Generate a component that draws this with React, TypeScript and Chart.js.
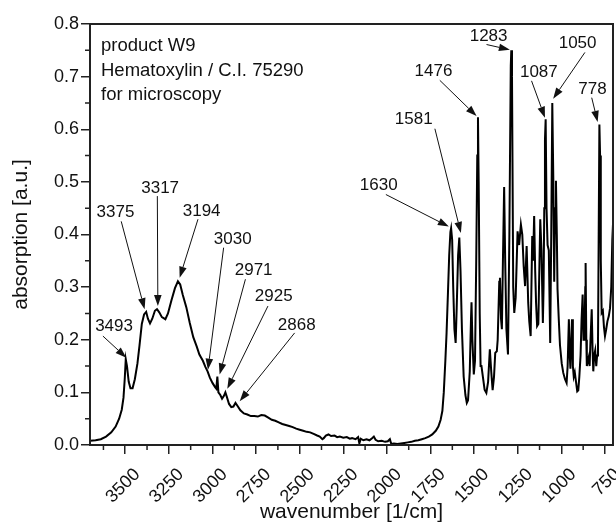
import React, { useEffect, useRef } from 'react';
import { Chart, registerables } from 'chart.js';

Chart.register(...registerables);

// ---------- data ----------
const ohRegionWn = [
  3700, 3670, 3640, 3610, 3580, 3555, 3535, 3520, 3510, 3503, 3497, 3490, 3480, 3470, 3458, 3445,
  3430, 3418, 3405, 3392, 3380, 3370, 3358, 3345, 3330, 3318, 3305, 3290, 3270, 3255, 3235, 3215,
  3198, 3185, 3170, 3150, 3130, 3110, 3090, 3075, 3055, 3040, 3028, 3015, 3000, 2985, 2978, 2972,
  2966, 2955, 2945, 2935, 2926, 2918, 2905, 2892, 2880, 2868, 2858, 2840, 2820, 2800, 2780, 2760,
  2740, 2720, 2700, 2680, 2660, 2640, 2620, 2600, 2580, 2560, 2540, 2520, 2500,
];
const ohRegionAbs = [
  0.008, 0.009, 0.011, 0.016, 0.024, 0.035, 0.05, 0.067, 0.09, 0.125, 0.163, 0.15, 0.12, 0.108, 0.108, 0.125,
  0.155, 0.19, 0.23, 0.248, 0.253, 0.24, 0.231, 0.24, 0.255, 0.258, 0.252, 0.243, 0.239, 0.25, 0.275, 0.298,
  0.311, 0.305, 0.285, 0.262, 0.232, 0.205, 0.187, 0.172, 0.16, 0.148, 0.14, 0.128, 0.118, 0.11, 0.107, 0.13,
  0.1, 0.095, 0.088, 0.093, 0.1, 0.092, 0.078, 0.072, 0.073, 0.08, 0.075, 0.066, 0.06, 0.058, 0.055, 0.055,
  0.054, 0.057, 0.056, 0.052, 0.048, 0.046, 0.043, 0.04, 0.038, 0.036, 0.034, 0.031, 0.029,
];

const baselineWn = [
  2480, 2460, 2440, 2420, 2400, 2385, 2370, 2362, 2350, 2335, 2320, 2300, 2285, 2270, 2250, 2230,
  2213, 2200, 2180, 2165, 2158, 2150, 2135, 2117, 2100, 2085, 2075, 2065, 2050, 2030, 2010, 1995,
  1983, 1975, 1960, 1940, 1920, 1900, 1880, 1860, 1840, 1820, 1800, 1780, 1760, 1740, 1720, 1705,
  1692, 1682, 1674, 1665, 1658, 1650, 1643, 1636, 1632,
];
const baselineAbs = [
  0.027, 0.025, 0.024, 0.021, 0.018, 0.016, 0.011, 0.013, 0.018, 0.02, 0.017, 0.018, 0.015, 0.016, 0.014, 0.015,
  0.012, 0.013, 0.011, 0.015, 0.003, 0.012, 0.009, 0.011, 0.009, 0.013, 0.016, 0.01, 0.007, 0.008, 0.006, 0.007,
  0.011, 0.002, 0.003, 0.002, 0.003, 0.004, 0.005, 0.006, 0.008, 0.009, 0.011, 0.013, 0.016, 0.02, 0.027, 0.035,
  0.048, 0.065, 0.1, 0.16, 0.213, 0.29, 0.36, 0.405, 0.412,
];

const fingerprintWn = [
  1626, 1620, 1613, 1606, 1600, 1592, 1585, 1578, 1570, 1560, 1550, 1542, 1535, 1525, 1518, 1515,
  1510, 1502, 1495, 1488, 1482, 1478, 1474, 1468, 1463, 1458, 1450, 1440, 1430, 1420, 1410, 1402,
  1394, 1386, 1379, 1370, 1365, 1356, 1352, 1346, 1341, 1335, 1328, 1322, 1315, 1306, 1298, 1290,
  1287, 1283, 1276, 1270, 1262, 1251, 1242, 1232, 1224, 1216, 1208, 1199, 1190, 1184, 1176, 1167,
  1162, 1156, 1150, 1145, 1139, 1132, 1127, 1121, 1114, 1106, 1102, 1098, 1094, 1090, 1085, 1079,
  1072, 1064, 1058, 1052, 1046, 1041, 1036, 1031, 1026, 1022, 1015, 1008, 998, 989, 979, 970,
  964, 957, 952, 948, 943, 939, 934, 929, 923, 916, 909, 903, 897, 890, 884, 878,
  873, 868, 863, 861, 857, 854, 848, 843, 838, 833, 826, 821, 817, 812, 806, 800,
  795, 790, 786, 782, 778, 774, 769, 762, 756, 750, 743, 736, 728, 721, 714, 708, 704,
];
const fingerprintAbs = [
  0.39, 0.3, 0.22, 0.194, 0.26, 0.36, 0.394, 0.33, 0.22, 0.13, 0.095, 0.08, 0.085, 0.14, 0.24, 0.271,
  0.2, 0.134, 0.16, 0.35, 0.55, 0.623, 0.5, 0.25, 0.15, 0.15, 0.13, 0.105, 0.099, 0.12, 0.182, 0.14,
  0.104, 0.13, 0.175, 0.178, 0.2, 0.31, 0.318, 0.24, 0.22, 0.35, 0.49, 0.35, 0.22, 0.172, 0.4, 0.72,
  0.75, 0.7, 0.3, 0.251, 0.28, 0.406, 0.38, 0.419, 0.4, 0.34, 0.302, 0.378, 0.27, 0.235, 0.207, 0.397,
  0.35, 0.435, 0.33, 0.27, 0.226, 0.23, 0.32, 0.429, 0.37, 0.232, 0.3, 0.45, 0.58, 0.619, 0.45, 0.38,
  0.37, 0.194, 0.4, 0.65, 0.5, 0.31, 0.45, 0.502, 0.4, 0.296, 0.24, 0.19, 0.155, 0.137, 0.125, 0.118,
  0.15, 0.239, 0.17, 0.145, 0.2, 0.239, 0.15, 0.13, 0.138, 0.12, 0.102, 0.104, 0.13, 0.17, 0.24, 0.286,
  0.2, 0.2, 0.3, 0.346, 0.2, 0.15, 0.16, 0.167, 0.15, 0.2, 0.258, 0.18, 0.14, 0.17, 0.18, 0.15,
  0.17, 0.194, 0.4, 0.609, 0.55, 0.35, 0.251, 0.255, 0.225, 0.207, 0.22, 0.235, 0.245, 0.26, 0.3, 0.39, 0.42,
];

// axis ticks
const xTickValues = [3500, 3250, 3000, 2750, 2500, 2250, 2000, 1750, 1500, 1250, 1000, 750];
const xMinorTickValues = [3625, 3375, 3125, 2875, 2625, 2375, 2125, 1875, 1625, 1375, 1125, 875];
const yMinorTickValues = [0.05, 0.15, 0.25, 0.35, 0.45, 0.55, 0.65, 0.75];

// header text
const headerLines = ['product W9', 'Hematoxylin / C.I. 75290', 'for microscopy'];

// peak annotations (all in data units)
const peakLabels = ['3493', '3375', '3317', '3194', '3030', '2971', '2925', '2868', '1630', '1581', '1476', '1283', '1087', '1050', '778'];
const peakTipWn = [3494, 3389, 3313, 3188, 3026, 2959, 2915, 2844, 1645, 1576, 1486, 1295, 1094, 1047, 792];
const peakTipAbs = [0.166, 0.258, 0.264, 0.318, 0.143, 0.134, 0.107, 0.083, 0.415, 0.403, 0.625, 0.751, 0.622, 0.658, 0.614];
const labelWn = [3564, 3556, 3300, 3062, 2884, 2764, 2649, 2517, 2047, 1846, 1733, 1417, 1129, 907, 822];
const labelAbs = [0.226, 0.442, 0.488, 0.445, 0.391, 0.332, 0.282, 0.227, 0.494, 0.619, 0.71, 0.777, 0.708, 0.764, 0.676];
const arrowStartWn = [3628, 3523, 3316, 3083, 2936, 2811, 2682, 2529, 2006, 1725, 1697, 1429, 1171, 865, 826];
const arrowStartAbs = [0.207, 0.425, 0.473, 0.429, 0.375, 0.315, 0.264, 0.213, 0.476, 0.601, 0.693, 0.761, 0.692, 0.746, 0.66];

const FONT = '"Liberation Sans", Arial, sans-serif';
const AXIS_COLOR = '#222';

const overlayPlugin = {
  id: 'overlay',
  afterDraw(chart: any) {
    const { ctx, chartArea: a, scales } = chart;
    const x = scales.x;
    const y = scales.y;
    ctx.save();
    // frame
    ctx.strokeStyle = AXIS_COLOR;
    ctx.lineWidth = 2;
    ctx.strokeRect(a.left, a.top, a.right - a.left, a.bottom - a.top);
    // minor ticks
    ctx.lineWidth = 1.5;
    ctx.beginPath();
    xMinorTickValues.forEach((v) => {
      const px = x.getPixelForValue(v);
      ctx.moveTo(px, a.bottom);
      ctx.lineTo(px, a.bottom + 5);
    });
    yMinorTickValues.forEach((v) => {
      const py = y.getPixelForValue(v);
      ctx.moveTo(a.left, py);
      ctx.lineTo(a.left - 5, py);
    });
    ctx.stroke();

    // header lines
    ctx.fillStyle = '#111';
    ctx.font = `18.5px ${FONT}`;
    ctx.textAlign = 'left';
    ctx.textBaseline = 'alphabetic';
    headerLines.forEach((t, i) => {
      ctx.fillText(t, a.left + 11, a.top + 27 + i * 24.5);
    });

    // annotations
    ctx.textAlign = 'center';
    ctx.textBaseline = 'middle';
    ctx.font = `17px ${FONT}`;
    peakLabels.forEach((t, i) => {
      const lx = x.getPixelForValue(labelWn[i]);
      const ly = y.getPixelForValue(labelAbs[i]);
      ctx.fillText(t, lx, ly);
      const sx = x.getPixelForValue(arrowStartWn[i]);
      const sy = y.getPixelForValue(arrowStartAbs[i]);
      const tx = x.getPixelForValue(peakTipWn[i]);
      const ty = y.getPixelForValue(peakTipAbs[i]);
      const ang = Math.atan2(ty - sy, tx - sx);
      const hl = 11;
      const hw = 3.8;
      const bx = tx - hl * Math.cos(ang);
      const by = ty - hl * Math.sin(ang);
      ctx.strokeStyle = '#111';
      ctx.lineWidth = 1;
      ctx.beginPath();
      ctx.moveTo(sx, sy);
      ctx.lineTo(bx, by);
      ctx.stroke();
      ctx.beginPath();
      ctx.moveTo(tx, ty);
      ctx.lineTo(bx + hw * Math.sin(ang), by - hw * Math.cos(ang));
      ctx.lineTo(bx - hw * Math.sin(ang), by + hw * Math.cos(ang));
      ctx.closePath();
      ctx.fill();
    });
    ctx.restore();
  },
};

export default function App() {
  const ref = useRef<HTMLCanvasElement | null>(null);
  useEffect(() => {
    if (!ref.current) return;
    const wn = [...ohRegionWn, ...baselineWn, ...fingerprintWn];
    const ab = [...ohRegionAbs, ...baselineAbs, ...fingerprintAbs];
    const points = wn.map((w, i) => ({ x: w, y: ab[i] }));
    const chart = new Chart(ref.current, {
      type: 'line',
      data: {
        datasets: [
          {
            data: points,
            borderColor: '#000',
            borderWidth: 2,
            pointRadius: 0,
            tension: 0,
            fill: false,
          },
        ],
      },
      options: {
        animation: false,
        responsive: false,
        devicePixelRatio: 1,
        parsing: false,
        layout: { padding: { top: 24, right: 3, left: 0, bottom: 0 } },
        plugins: { legend: { display: false }, tooltip: { enabled: false } },
        scales: {
          x: {
            type: 'linear',
            reverse: true,
            min: 704,
            max: 3702,
            afterBuildTicks: (axis: any) => {
              axis.ticks = xTickValues.map((v) => ({ value: v }));
            },
            afterFit: (s: any) => {
              s.height = 80;
              s.paddingLeft = 0;
              s.paddingRight = 0;
              s.paddingTop = 0;
              s.paddingBottom = 0;
            },
            ticks: {
              autoSkip: false,
              minRotation: 45,
              maxRotation: 45,
              padding: 10,
              labelOffset: 12,
              color: '#111',
              font: { family: FONT, size: 18 },
              callback: (v: any) => String(v),
            },
            grid: {
              drawOnChartArea: false,
              drawTicks: true,
              tickLength: 9,
              color: AXIS_COLOR,
              lineWidth: 1.5,
            },
            border: { display: true, color: AXIS_COLOR, width: 2 },
            title: {
              display: true,
              text: 'wavenumber [1/cm]',
              color: '#111',
              font: { family: FONT, size: 21 },
              padding: { top: 0, bottom: 0 },
            },
          },
          y: {
            type: 'linear',
            min: 0,
            max: 0.8,
            afterFit: (s: any) => {
              s.width = 90;
              s.paddingLeft = 0;
              s.paddingRight = 0;
              s.paddingTop = 0;
              s.paddingBottom = 0;
            },
            ticks: {
              stepSize: 0.1,
              padding: 2,
              color: '#111',
              font: { family: FONT, size: 18 },
              callback: (v: any) => Number(v).toFixed(1),
            },
            grid: {
              drawOnChartArea: false,
              drawTicks: true,
              tickLength: 9,
              color: AXIS_COLOR,
              lineWidth: 1.5,
            },
            border: { display: true, color: AXIS_COLOR, width: 2 },
            title: {
              display: true,
              text: 'absorption [a.u.]',
              color: '#111',
              font: { family: FONT, size: 21 },
              padding: { top: 9, bottom: 0 },
            },
          },
        },
      },
      plugins: [overlayPlugin],
    } as any);
    return () => chart.destroy();
  }, []);
  return (
    <div style={{ position: 'fixed', left: 0, top: 0, width: 616, height: 525, background: '#fff' }}>
      <canvas ref={ref} width={616} height={525} style={{ display: 'block' }} />
    </div>
  );
}
